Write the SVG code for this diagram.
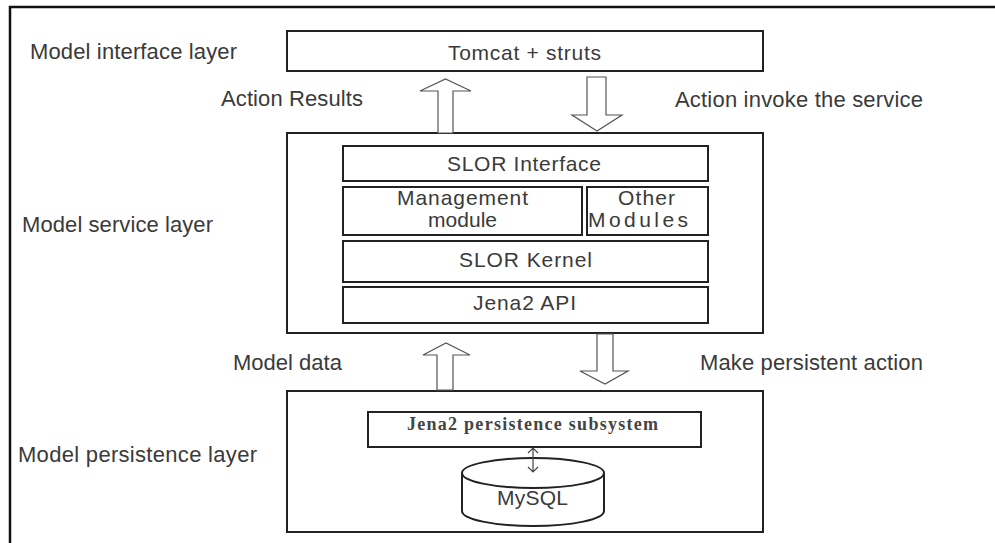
<svg xmlns="http://www.w3.org/2000/svg" width="995" height="543" viewBox="0 0 995 543">
<style>
.bg{fill:#fff}
.frame{fill:none;stroke:#111;stroke-width:2.5}
.box{fill:#fff;stroke:#222;stroke-width:2}
.arr{fill:#fff;stroke:#555;stroke-width:1.2;stroke-linejoin:miter}
.lbl{font-family:"Liberation Sans",Arial,sans-serif;font-size:22px;fill:#3a3a3a}
.in{font-family:"Liberation Sans",Arial,sans-serif;font-size:21px;fill:#3a3a3a;text-anchor:start}
.ser{font-family:"Liberation Serif","Times New Roman",serif;font-size:18px;fill:#444;font-weight:bold}
.thin{fill:none;stroke:#444;stroke-width:1.2}
</style>
<rect class="bg" x="0" y="0" width="995" height="543"/>
<path class="frame" d="M10,543 L10,7 L995,7"/>

<g id="labels">
<text class="lbl" x="30" y="59" textLength="207" lengthAdjust="spacing">Model interface layer</text>
<text class="lbl" x="22" y="232" textLength="191" lengthAdjust="spacing">Model service layer</text>
<text class="lbl" x="18" y="462" textLength="239" lengthAdjust="spacing">Model persistence layer</text>
<text class="lbl" x="221" y="106" textLength="142" lengthAdjust="spacing">Action Results</text>
<text class="lbl" x="675" y="107" textLength="248" lengthAdjust="spacing">Action invoke the service</text>
<text class="lbl" x="233" y="370" textLength="109" lengthAdjust="spacing">Model data</text>
<text class="lbl" x="700" y="370" textLength="223" lengthAdjust="spacing">Make persistent action</text>
</g>

<g id="tomcat">
<rect class="box" x="287" y="31" width="476" height="40"/>
<text class="in" x="448" y="60" textLength="153" lengthAdjust="spacing">Tomcat + struts</text>
</g>

<g id="service-layer">
<rect class="box" x="287" y="133" width="476" height="200"/>
</g>
<g id="slor-interface">
<rect class="box" x="343" y="146" width="365" height="35"/>
<text class="in" x="447" y="171" textLength="154" lengthAdjust="spacing">SLOR Interface</text>
</g>
<g id="management-module">
<rect class="box" x="343" y="187" width="239" height="48"/>
<text class="in" x="397" y="205" textLength="131" lengthAdjust="spacing">Management</text>
<text class="in" x="428" y="227" textLength="69" lengthAdjust="spacing">module</text>
</g>
<g id="other-modules">
<rect class="box" x="587" y="187" width="121" height="48"/>
<text class="in" x="618" y="205" textLength="57" lengthAdjust="spacing">Other</text>
<text class="in" x="588" y="227" textLength="100" lengthAdjust="spacing">Modules</text>
</g>
<g id="slor-kernel">
<rect class="box" x="343" y="241" width="365" height="41"/>
<text class="in" x="459" y="267" textLength="133" lengthAdjust="spacing">SLOR Kernel</text>
</g>
<g id="jena2-api">
<rect class="box" x="343" y="287" width="365" height="36"/>
<text class="in" x="473" y="310" textLength="103" lengthAdjust="spacing">Jena2 API</text>
</g>

<g id="persistence-layer">
<rect class="box" x="287" y="391" width="476" height="141"/>
</g>
<g id="jena2-persistence">
<rect class="box" x="368" y="412" width="333" height="35"/>
<text class="ser" x="407" y="430" textLength="251" lengthAdjust="spacing">Jena2 persistence subsystem</text>
</g>
<g id="mysql">
<path class="box" d="M462,473 L462,511 A71,15 0 0 0 604,511 L604,473"/>
<ellipse class="box" cx="533" cy="473" rx="71" ry="15"/>
<text class="in" x="497" y="505" textLength="71" lengthAdjust="spacing">MySQL</text>
</g>

<g id="connectors">
<polygon class="arr" points="438,133 438,91 420,91 445.5,79 471,91 453,91 453,133"/>
<polygon class="arr" points="587,77 606,77 606,115 622,115 597,131 572,115 587,115"/>
<polygon class="arr" points="437,390 437,355 423,355 446,343 470,355 453,355 453,390"/>
<polygon class="arr" points="597,334 613,334 613,371 628,371 605,384 580,371 597,371"/>
<path class="thin" d="M533,448 L533,472 M528,453 L533,448 L538,453 M528,467 L533,472 L538,467"/>
</g>
</svg>
